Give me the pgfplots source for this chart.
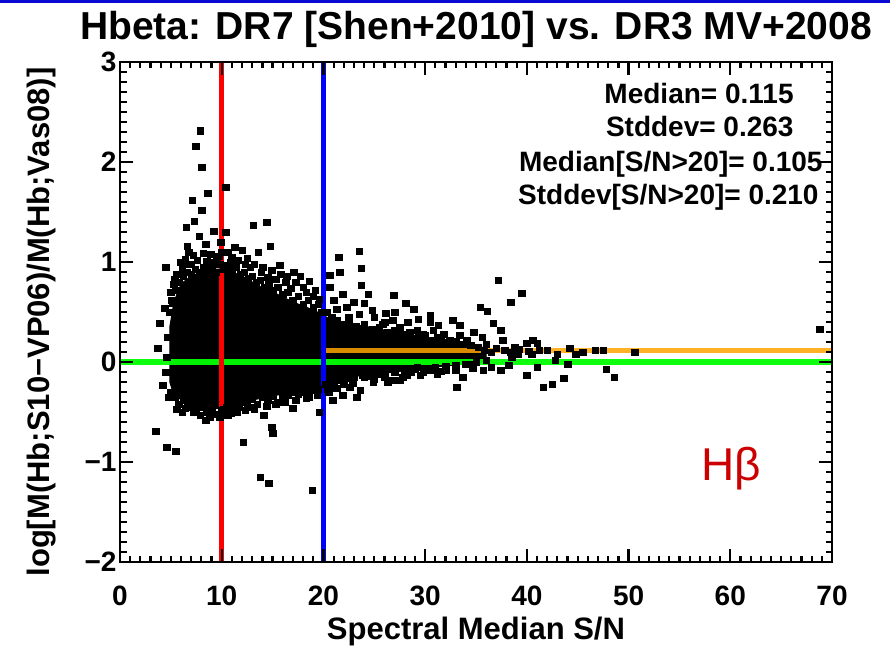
\documentclass[border=0pt]{standalone}
\usepackage{fontspec}
\setmainfont{Liberation Sans}
\usepackage{pgfplots}
\pgfplotsset{compat=1.18}
\definecolor{idlorange}{RGB}{255,165,0}
\definecolor{idlgreen}{RGB}{0,255,0}
\definecolor{hbred}{RGB}{204,0,0}
\definecolor{topblue}{RGB}{10,10,210}
\newcommand{\bigf}{\fontsize{28}{30}\selectfont\bfseries}
\newcommand{\labf}{\fontsize{31}{33}\selectfont\bfseries}
\begin{document}
\begin{tikzpicture}
\path[use as bounding box] (0,0) rectangle (890pt,649pt);
\fill[topblue] (0,646pt) rectangle (890pt,649pt);
\begin{axis}[
  at={(120pt,87pt)}, anchor=south west,
  scale only axis, width=712pt, height=500pt,
  xmin=0, xmax=70, ymin=-2, ymax=3,
  xtick={0,10,...,70}, ytick={-2,-1,0,1,2,3},
  yticklabels={−2,−1,0,1,2,3},
  minor x tick num=9, minor y tick num=9,
  tick align=inside,
  tickwidth=13pt, subtickwidth=6.5pt,
  xtick style={black, line width=2.2pt},
  ytick style={black, line width=2.2pt},
  minor tick style={black, line width=2.2pt},
  axis on top,
  axis line style={line width=2.6pt},
  ticklabel style={font=\bigf},
  xticklabel style={yshift=-20pt},
  /pgf/number format/assume math mode=true,
  xlabel={Spectral Median S/N},
  xlabel style={font=\labf, at={(axis description cs:0.5,0)}, anchor=base, yshift=-77pt},
  ylabel={log[M(Hb;S10−VP06)/M(Hb;Vas08)]},
  ylabel style={font=\labf, at={(axis description cs:-0.11,0.48)}, anchor=center},
  title={Hbeta: DR7 [Shen+2010] vs. DR3 MV+2008},
  title style={font=\fontsize{39}{42}\selectfont\bfseries, at={(axis description cs:0.5,1)}, anchor=base, yshift=16pt},
]
% dense core of the point cloud
\addplot[fill=black, draw=black, line width=1pt] coordinates {
(4.9,-0.20) (4.9,0.35) (5.3,0.60) (6.0,0.78) (7.0,0.86) (8.0,0.90) (9.0,0.93) (10.0,0.93)
(11.0,0.90) (12.0,0.86) (13.0,0.80) (14.0,0.74) (15.0,0.70) (16.0,0.65) (17.0,0.60) (18.0,0.56)
(19.0,0.52) (20.0,0.47) (21.0,0.40) (24.0,0.36) (27.0,0.30) (30.0,0.25) (33.0,0.20) (36.0,0.14)
(36.0,0.00) (33.0,-0.03) (30.0,-0.06) (27.0,-0.10) (24.0,-0.13) (21.0,-0.18) (20.0,-0.23)
(19.0,-0.25) (18.0,-0.28) (17.0,-0.30) (16.0,-0.32) (15.0,-0.34) (14.0,-0.36) (13.0,-0.38)
(12.0,-0.40) (11.0,-0.43) (10.0,-0.46) (9.0,-0.47) (8.0,-0.46) (7.0,-0.43) (6.0,-0.38) (5.2,-0.30)
} -- cycle;
% individual points
\addplot[only marks, mark=square*, mark size=3.3pt, mark options={draw=black, fill=black}] table {
x y
7.87 2.31
7.47 2.16
8.06 1.95
10.4 1.75
8.65 1.69
7.08 1.62
8.06 1.52
7.28 1.41
6.49 1.35
13.1 1.37
14.4 1.40
9.24 1.31
10.4 1.30
7.77 1.26
6.59 1.16
6.78 1.10
14.75 1.16
13.6 1.10
11.3 1.15
10.6 1.10
8.16 1.09
8.55 1.01
10.0 1.10
4.52 0.95
15.7 0.97
12.3 0.98
17.1 0.90
17.7 0.86
18.6 0.81
15.3 0.83
5.4 0.83
6.1 0.93
11.0 1.05
9.5 1.02
12.8 0.95
13.9 0.90
14.5 0.85
16.3 0.80
19.2 0.72
18.0 0.75
16.8 0.74
5.0 0.70
5.6 0.88
7.0 0.98
9.0 1.0
5.9 1.0
6.4 1.03
7.2 1.07
7.6 1.02
8.9 1.08
9.7 1.06
10.9 1.0
11.6 1.02
12.5 1.04
13.2 0.98
14.0 0.95
14.9 0.92
15.8 0.88
16.4 0.86
17.3 0.80
18.3 0.70
19.0 0.66
19.6 0.63
12.0 1.12
9.9 1.20
8.4 1.18
6.3 0.98
5.3 0.78
4.9 0.50
3.9 0.39
4.4 0.54
5.2 0.59
3.7 0.14
4.6 0.05
4.5 -0.10
4.7 0.25
4.2 -0.23
4.8 -0.35
3.5 -0.69
4.6 -0.85
5.5 -0.89
12.1 -0.80
15.0 -0.71
14.9 -0.65
14.1 -0.53
10.9 -0.51
11.7 -0.45
8.4 -0.58
7.2 -0.50
6.4 -0.46
19.6 -0.50
20.9 -0.38
21.9 -0.33
23.3 -0.35
18.3 -0.36
17.0 -0.46
16.0 -0.35
13.8 -1.15
14.6 -1.21
18.9 -1.28
9.8 -0.55
12.8 -0.45
13.5 -0.42
15.5 -0.40
17.8 -0.30
19.2 -0.28
5.8 -0.42
6.8 -0.45
9.0 -0.50
10.2 -0.47
11.2 -0.45
5.6 -0.47
6.1 -0.50
7.9 -0.53
8.8 -0.55
10.6 -0.53
11.5 -0.50
12.3 -0.48
13.2 -0.47
14.4 -0.44
15.3 -0.42
16.2 -0.40
17.3 -0.38
18.6 -0.35
19.4 -0.33
20.4 -0.27
21.3 -0.26
22.6 -0.25
25.0 -0.17
26.0 -0.15
28.2 -0.13
29.8 -0.10
31.5 -0.09
33.0 -0.08
34.7 -0.06
5.1 0.62
5.5 0.72
5.8 0.80
6.2 0.86
6.6 0.90
7.0 0.88
7.4 0.93
7.8 0.90
8.2 0.95
8.6 0.92
9.0 0.96
9.4 0.90
9.8 0.98
10.2 0.93
10.6 0.97
11.0 0.90
11.4 0.95
11.8 0.88
12.2 0.90
12.6 0.84
13.0 0.86
13.4 0.80
13.8 0.82
14.2 0.75
14.6 0.78
15.0 0.72
15.5 0.75
16.0 0.68
16.5 0.70
17.0 0.62
17.5 0.66
18.0 0.58
18.5 0.62
19.0 0.55
19.5 0.58
19.8 0.50
20.3 0.50
20.8 0.45
21.3 0.42
21.8 0.38
22.5 0.40
23.2 0.36
24.0 0.38
24.8 0.33
25.5 0.35
26.3 0.30
27.0 0.32
27.8 0.28
28.5 0.30
29.3 0.25
30.0 0.27
30.8 0.22
31.5 0.24
32.3 0.20
33.0 0.21
33.8 0.18
34.5 0.17
35.2 0.15
35.8 0.12
36.5 0.10
37.0 0.14
37.8 0.12
38.4 0.10
39.2 0.13
40.2 0.11
41.2 0.12
5.0 -0.30
5.4 -0.35
6.2 -0.38
6.6 -0.44
7.0 -0.42
7.5 -0.47
8.0 -0.45
8.5 -0.50
9.5 -0.52
10.0 -0.48
10.5 -0.45
11.0 -0.44
11.5 -0.42
12.0 -0.40
12.5 -0.42
13.0 -0.37
14.0 -0.35
14.5 -0.38
15.0 -0.34
16.5 -0.33
17.0 -0.30
17.5 -0.32
18.0 -0.27
18.5 -0.29
19.0 -0.25
19.5 -0.27
20.2 -0.22
20.8 -0.20
21.5 -0.18
22.2 -0.16
23.0 -0.15
23.8 -0.13
24.5 -0.14
25.3 -0.12
26.0 -0.11
27.0 -0.10
28.0 -0.09
29.0 -0.07
30.0 -0.06
31.0 -0.05
32.0 -0.04
33.0 -0.03
34.0 -0.02
35.0 0.0
36.0 0.02
21.5 1.05
23.5 1.11
21.6 0.90
23.7 0.94
20.6 0.87
23.7 0.77
20.6 0.75
21.9 0.68
24.4 0.68
26.9 0.67
23.0 0.60
24.0 0.59
28.1 0.59
21.3 0.53
28.9 0.53
26.1 0.49
30.5 0.47
35.4 0.55
36.1 0.51
37.2 0.82
38.4 0.60
39.5 0.69
32.7 0.42
33.4 0.37
36.7 0.39
37.4 0.32
35.6 0.25
34.1 0.22
30.5 0.40
29.3 0.43
28.3 0.40
26.8 0.42
31.3 0.37
32.4 0.22
31.2 0.25
37.6 0.22
40.0 0.19
40.6 0.22
41.0 0.19
33.4 0.27
30.8 0.32
29.2 0.32
22.5 0.45
25.0 0.45
25.8 0.38
27.5 0.35
20.8 0.45
22.3 0.55
24.8 0.52
26.0 0.40
23.5 0.48
21.0 0.62
27.0 0.50
29.8 0.28
31.8 0.28
34.8 0.30
36.0 0.18
38.8 0.15
39.1 0.08
40.5 0.08
38.5 0.05
44.2 0.14
44.8 0.08
46.7 0.12
50.6 0.10
42.0 0.12
43.0 0.08
45.5 0.10
47.5 0.12
68.8 0.33
33.1 -0.25
35.7 -0.08
37.4 -0.08
38.2 -0.03
33.7 -0.15
29.5 -0.13
27.5 -0.18
26.3 -0.20
24.6 -0.11
23.6 -0.28
24.9 -0.20
22.9 -0.21
26.7 -0.18
27.8 -0.15
30.5 -0.08
40.0 -0.13
29.2 -0.05
25.6 -0.08
44.0 -0.02
47.8 -0.07
48.6 -0.15
43.6 -0.16
42.5 -0.22
41.6 -0.25
36.5 -0.05
34.5 -0.02
32.0 -0.08
31.2 -0.12
28.6 -0.10
21.0 -0.25
22.0 -0.22
20.5 -0.30
24.0 -0.15
41.0 -0.05
42.8 0.02
};
% reference lines
\addplot[idlgreen, line width=6pt, opacity=0.95] coordinates {(0,0) (70,0)};
\addplot[idlorange, line width=5pt, opacity=0.85] coordinates {(20,0.115) (70,0.115)};
\addplot[red, line width=5pt] coordinates {(10,-2) (10,3)};
\addplot[blue, line width=4.5pt] coordinates {(20,-2) (20,3)};
% annotations
\node[anchor=base east, font=\bigf] at (axis cs:66.57,2.58) {Median= 0.115};
\node[anchor=base east, font=\bigf] at (axis cs:66.57,2.25) {Stddev= 0.263};
\node[anchor=base east, font=\bigf] at (axis cs:69.42,1.91) {Median[S/N>20]= 0.105};
\node[anchor=base east, font=\bigf] at (axis cs:69.03,1.58) {Stddev[S/N>20]= 0.210};
\node[text=hbred, font=\fontsize{46}{50}\selectfont] at (axis cs:60.1,-1.07) {Hβ};
\end{axis}
\end{tikzpicture}
\end{document}
